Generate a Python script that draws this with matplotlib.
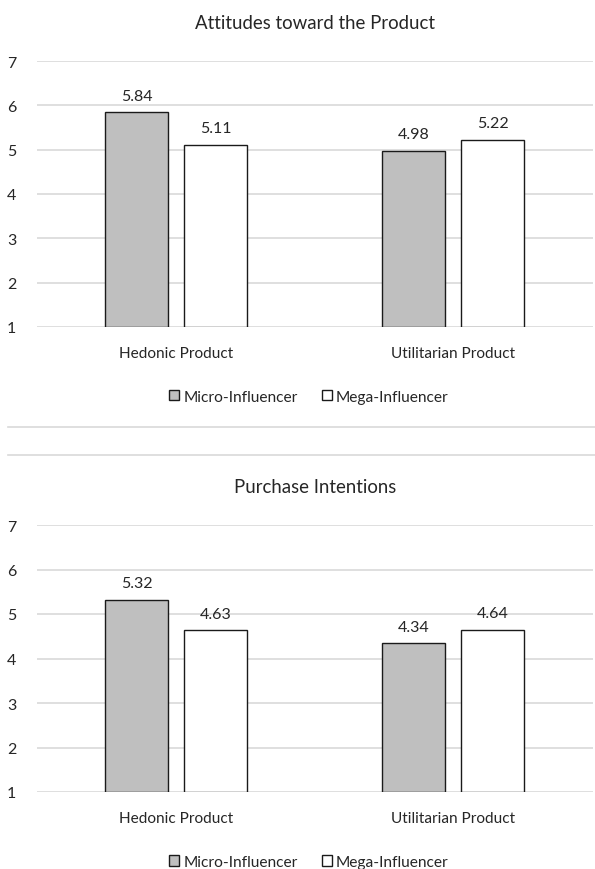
import matplotlib
matplotlib.use("Agg")
import matplotlib.pyplot as plt
from matplotlib.patches import Patch
from matplotlib.lines import Line2D
import numpy as np

categories = ["Hedonic Product", "Utilitarian Product"]
series_names = ["Micro-Influencer", "Mega-Influencer"]
titles = ["Attitudes toward the Product", "Purchase Intentions"]
attitudes_micro = [5.84, 4.98]
attitudes_mega = [5.11, 5.22]
purchase_micro = [5.32, 4.34]
purchase_mega = [4.63, 4.64]
yticks = [1, 2, 3, 4, 5, 6, 7]

plt.rcParams['font.family'] = ['Lato', 'DejaVu Sans']
text_color = '#262626'

fig = plt.figure(figsize=(5.95, 8.7), dpi=100)
fig.patch.set_facecolor('white')

W, H = 595.0, 870.0
panels = [
    (titles[0], attitudes_micro, attitudes_mega, 62, 328),
    (titles[1], purchase_micro, purchase_mega, 526, 793),
]

x = np.arange(len(categories))
bw = 0.226
off = 0.1426
for title, micro, mega, ytop, ybot in panels:
    ax = fig.add_axes([37 / W, 1 - ybot / H, 556 / W, (ybot - ytop) / H])
    ax.set_xlim(-0.502, 1.505)
    ax.set_ylim(1, 7)
    ax.set_yticks(yticks)
    ax.grid(axis='y', color='#d9d9d9', linewidth=1.2, zorder=0)
    ax.set_axisbelow(True)
    for s in ax.spines.values():
        s.set_visible(False)
    ax.tick_params(axis='both', length=0, labelsize=11.5, colors=text_color)
    ax.tick_params(axis='x', labelsize=11.1, pad=14)
    ax.tick_params(axis='y', pad=15)
    ax.set_xticks(x)
    ax.set_xticklabels(categories)
    b1 = ax.bar(x - off, np.array(micro) - 1, bw, bottom=1, color='#bfbfbf',
                edgecolor='#1a1a1a', linewidth=1.0, zorder=3)
    b2 = ax.bar(x + off, np.array(mega) - 1, bw, bottom=1, color='white',
                edgecolor='#1a1a1a', linewidth=1.0, zorder=3)
    for bars, vals in ((b1, micro), (b2, mega)):
        for rect, v in zip(bars, vals):
            ax.annotate(f"{v:.2f}", (rect.get_x() + rect.get_width() / 2, v),
                        xytext=(0, 7), textcoords='offset points',
                        ha='center', va='bottom', fontsize=11.5, color=text_color)
    ax.set_title(title, fontsize=13.4, color=text_color, pad=24)
    handles = [Patch(facecolor='#bfbfbf', edgecolor='#1a1a1a', linewidth=1.0),
               Patch(facecolor='white', edgecolor='#1a1a1a', linewidth=1.0)]
    ax.legend(handles, series_names, loc='center', bbox_to_anchor=(0.489, -0.262),
              ncol=2, frameon=False, fontsize=11.2, handlelength=0.65,
              handleheight=0.65, handletextpad=0.26, columnspacing=1.55,
              labelcolor=text_color)

for yp in (428, 456):
    fig.add_artist(Line2D([8 / W, 1.0], [1 - yp / H, 1 - yp / H],
                          transform=fig.transFigure, color='#d9d9d9', linewidth=1.2))

fig.savefig("out.png", dpi=100, facecolor='white')
